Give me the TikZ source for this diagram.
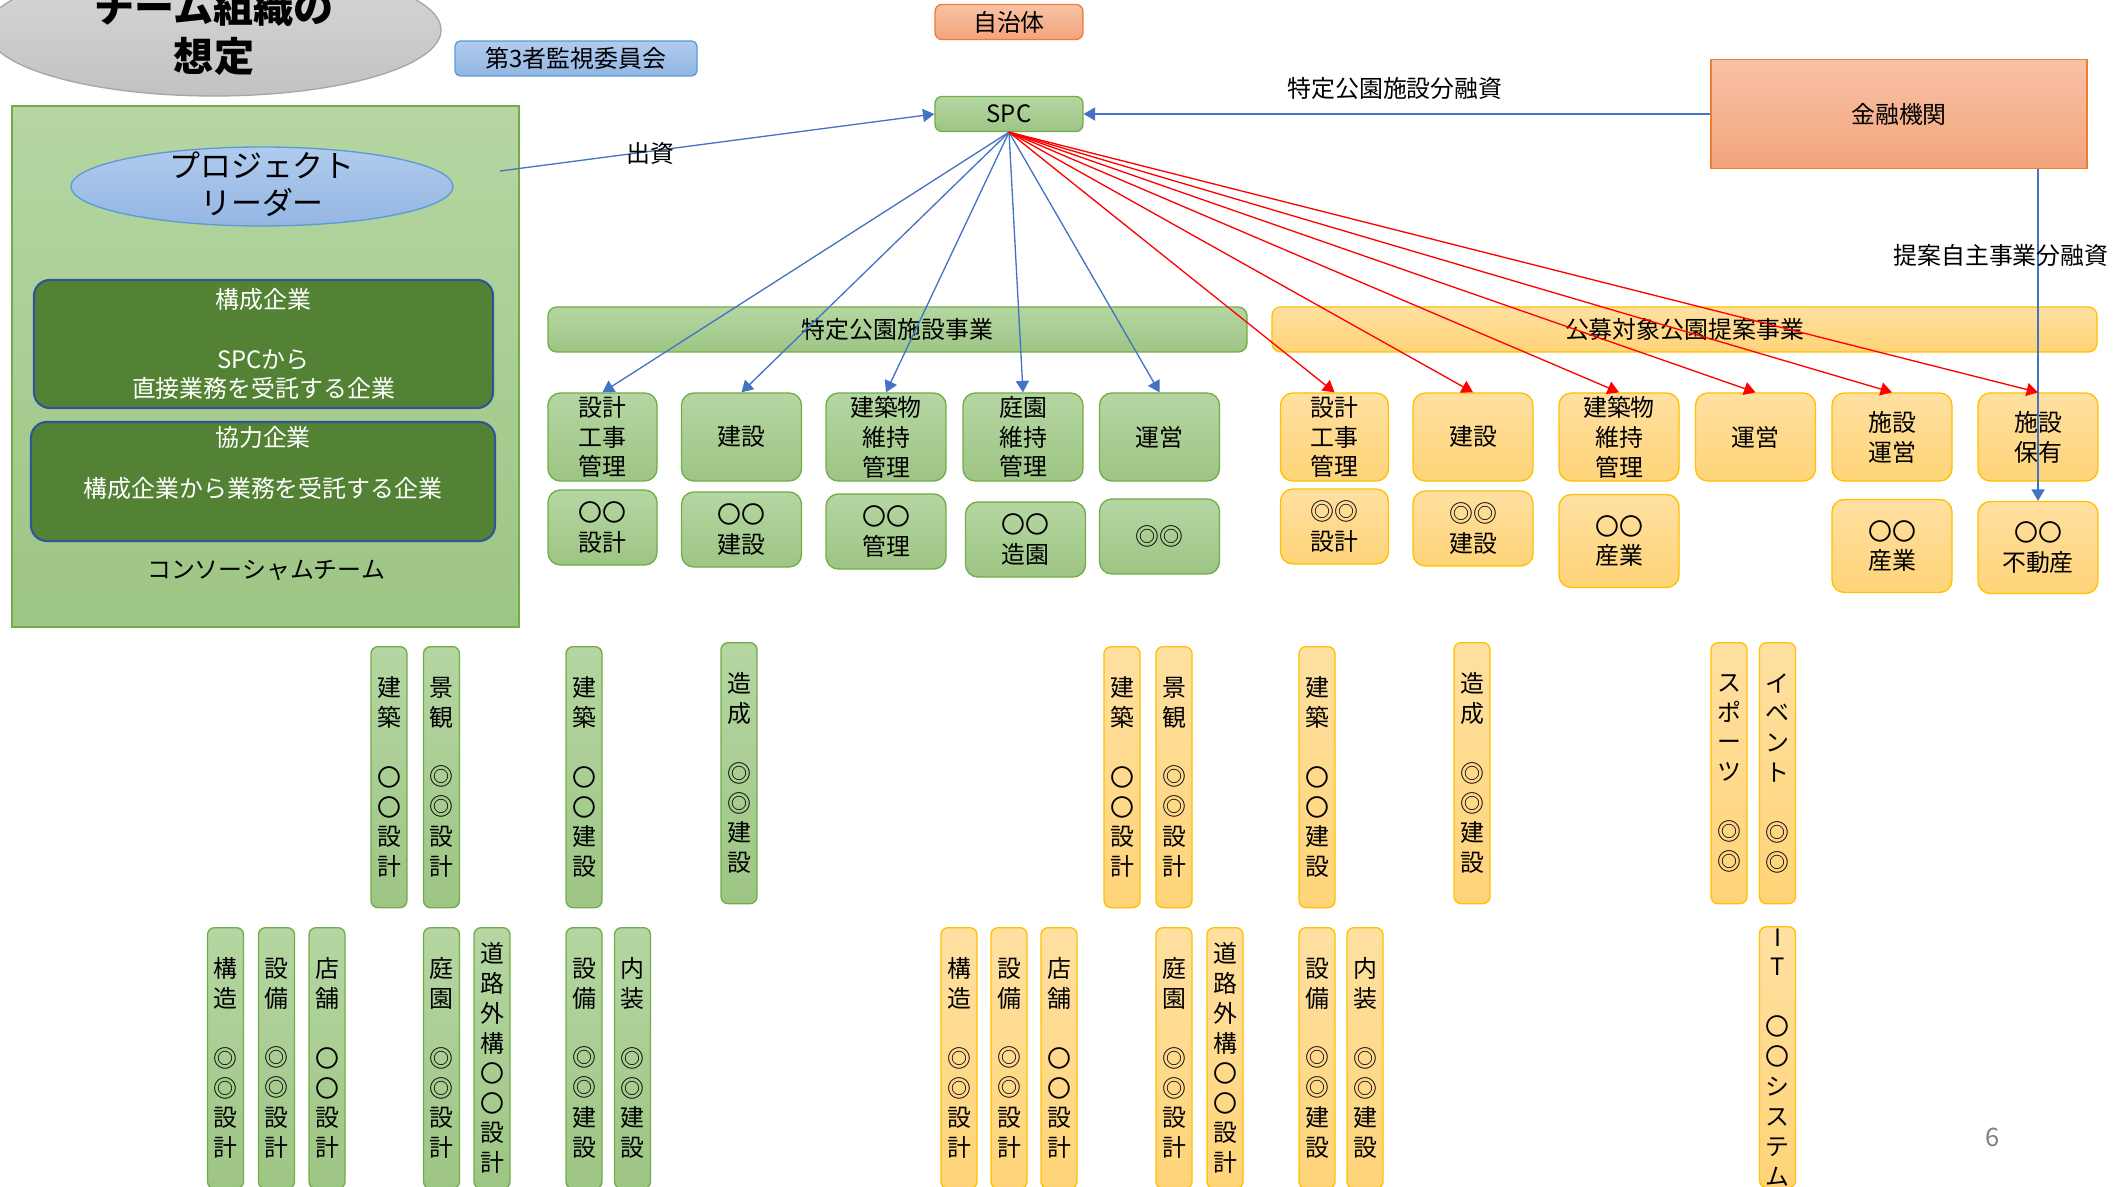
\documentclass[tikz,border=0pt]{standalone}
\usepackage{fontspec}
\setmainfont{Noto Sans CJK JP}
\usetikzlibrary{arrows.meta,shapes.geometric}
\definecolor{gline}{HTML}{70AD47}
\definecolor{gtop}{HTML}{B5D6A2}
\definecolor{gbot}{HTML}{9DC584}
\definecolor{oline}{HTML}{FFC000}
\definecolor{otop}{HTML}{FFE0A1}
\definecolor{obot}{HTML}{FFD478}
\definecolor{rline}{HTML}{ED7D31}
\definecolor{rtop}{HTML}{F7C2A5}
\definecolor{rbot}{HTML}{F3A47C}
\definecolor{bline}{HTML}{5B9BD5}
\definecolor{btop}{HTML}{B0CBEE}
\definecolor{bbot}{HTML}{93B6E2}
\definecolor{kfill}{HTML}{548235}
\definecolor{kline}{HTML}{2F5597}
\definecolor{arrowblue}{HTML}{4472C4}
\begin{document}
\begin{tikzpicture}[x=0.2mm,y=-0.2mm,
every node/.style={font=\fontsize{13.6}{17}\selectfont,align=center,inner sep=1pt},
gbox/.style={draw=gline,line width=0.75pt,rounded corners=7pt,top color=gtop,bottom color=gbot,minimum width=2.4cm,minimum height=1.76cm},
obox/.style={gbox,draw=oline,top color=otop,bottom color=obot},
gbar/.style={gbox,rounded corners=4pt,minimum width=0.72cm,minimum height=5.22cm,anchor=north},
obar/.style={obox,rounded corners=4pt,minimum width=0.72cm,minimum height=5.22cm,anchor=north},
bluebox/.style={draw=bline,line width=0.75pt,top color=btop,bottom color=bbot},
orangebox/.style={draw=rline,line width=0.75pt,top color=rtop,bottom color=rbot},
company/.style={draw=kline,line width=1.2pt,fill=kfill,rounded corners=9pt,text=white},
link/.style={draw=arrowblue,line width=0.75pt,-{Triangle[length=6.5pt,width=7.5pt]}},
redlink/.style={link,draw=red}]
\useasboundingbox (0,0) rectangle (2123,1187);

\node[ellipse,draw=gray!70,line width=0.75pt,top color=gray!30,bottom color=gray!48,minimum width=9.08cm,minimum height=2.64cm] (title) at (214,30) {};
\node[font=\fontsize{22.8}{28}\selectfont\bfseries] (titletext) at (214,32) {チーム組織の\\想定};
\node[bluebox,rounded corners=3pt,minimum width=4.84cm,minimum height=0.7cm] (iinkai) at (576,58.5) {第3者監視委員会};
\node[orangebox,rounded corners=4pt,minimum width=2.96cm,minimum height=0.7cm] (jichitai) at (1009,22) {自治体};
\node[gbox,rounded corners=4pt,minimum width=2.96cm,minimum height=0.7cm] (spc) at (1009,114) {SPC};
\node[orangebox,minimum width=7.52cm,minimum height=2.18cm] (bank) at (1899,114) {金融機関};

\node[draw=gline,line width=0.75pt,top color=gtop,bottom color=gbot,minimum width=10.14cm,minimum height=10.42cm] (team) at (265.5,366.5) {};
\node[ellipse,bluebox,minimum width=7.64cm,minimum height=1.58cm] (leader) at (262,186.5) {};
\node[font=\fontsize{17.6}{21}\selectfont] (leadertext) at (262,184) {プロジェクト\\リーダー};
\node[company,minimum width=9.18cm,minimum height=2.56cm] (kosei) at (263.5,344) {構成企業\\　\\SPCから\\直接業務を受託する企業};
\node[company,minimum width=9.28cm,minimum height=2.38cm] (kyoryoku) at (263,481.5) {};
\node[text=white] (kyoryokutext) at (263,463) {協力企業\\[12pt]構成企業から業務を受託する企業};
\node (consortium) at (266,570) {コンソーシャムチーム};

\node[gbox,rounded corners=5pt,minimum width=13.98cm,minimum height=0.9cm] (park) at (897.5,329.5) {特定公園施設事業};
\node[obox,rounded corners=5pt,minimum width=16.5cm,minimum height=0.9cm] (proposal) at (1684.5,329.5) {公募対象公園提案事業};

\node[gbox,minimum width=2.18cm] (g1) at (602.5,437) {設計\\工事\\管理};
\node[gbox] (g2) at (741.5,437) {建設};
\node[gbox] (g3) at (886,437) {建築物\\維持\\管理};
\node[gbox] (g4) at (1023,437) {庭園\\維持\\管理};
\node[gbox] (g5) at (1159.5,437) {運営};
\node[gbox,minimum width=2.18cm,minimum height=1.5cm] (h1) at (602.5,527.5) {〇〇\\設計};
\node[gbox,minimum height=1.5cm] (h2) at (741.5,529.5) {〇〇\\建設};
\node[gbox,minimum height=1.5cm] (h3) at (886,531.5) {〇〇\\管理};
\node[gbox,minimum height=1.5cm] (h4) at (1025.5,539.5) {〇〇\\造園};
\node[gbox,minimum height=1.5cm] (h5) at (1159.5,536.5) {◎◎};

\node[obox,minimum width=2.16cm] (o1) at (1334.5,437) {設計\\工事\\管理};
\node[obox] (o2) at (1473,437) {建設};
\node[obox] (o3) at (1619,437) {建築物\\維持\\管理};
\node[obox] (o4) at (1755.5,437) {運営};
\node[obox] (o5) at (1892,437) {施設\\運営};
\node[obox] (o6) at (2038,437) {施設\\保有};
\node[obox,minimum width=2.16cm,minimum height=1.5cm] (p1) at (1334.5,526.5) {◎◎\\設計};
\node[obox,minimum height=1.5cm] (p2) at (1473,528.5) {◎◎\\建設};
\node[obox,minimum height=1.86cm] (p3) at (1619,541) {〇〇\\産業};
\node[obox,minimum height=1.86cm] (p5) at (1892,546) {〇〇\\産業};
\node[obox,minimum height=1.84cm] (p6) at (2038,547.5) {〇〇\\不動産};

\node[gbar] (gv1) at (389,646) {建\\築\\　\\〇\\〇\\設\\計};
\node[gbar] (gv2) at (441.5,646) {景\\観\\　\\◎\\◎\\設\\計};
\node[gbar] (gv3) at (584,646) {建\\築\\　\\〇\\〇\\建\\設};
\node[gbar] (gv4) at (739,642) {造\\成\\　\\◎\\◎\\建\\設};
\node[gbar] (gw1) at (225.5,927) {構\\造\\　\\◎\\◎\\設\\計};
\node[gbar] (gw2) at (276.5,927) {設\\備\\　\\◎\\◎\\設\\計};
\node[gbar] (gw3) at (327,927) {店\\舗\\　\\〇\\〇\\設\\計};
\node[gbar] (gw4) at (441.5,927) {庭\\園\\　\\◎\\◎\\設\\計};
\node[gbar] (gw5) at (492,927) {道\\路\\外\\構\\〇\\〇\\設\\計};
\node[gbar] (gw6) at (584,927) {設\\備\\　\\◎\\◎\\建\\設};
\node[gbar] (gw7) at (632.5,927) {内\\装\\　\\◎\\◎\\建\\設};

\node[obar] (ov1) at (1122,646) {建\\築\\　\\〇\\〇\\設\\計};
\node[obar] (ov2) at (1174,646) {景\\観\\　\\◎\\◎\\設\\計};
\node[obar] (ov3) at (1317,646) {建\\築\\　\\〇\\〇\\建\\設};
\node[obar] (ov4) at (1472,642) {造\\成\\　\\◎\\◎\\建\\設};
\node[obar] (ov5) at (1729,642) {ス\\ポ\\ー\\ツ\\　\\◎\\◎};
\node[obar] (ov6) at (1777.5,642) {イ\\ベ\\ン\\ト\\　\\◎\\◎};
\node[obar] (ow1) at (959,927) {構\\造\\　\\◎\\◎\\設\\計};
\node[obar] (ow2) at (1009,927) {設\\備\\　\\◎\\◎\\設\\計};
\node[obar] (ow3) at (1059,927) {店\\舗\\　\\〇\\〇\\設\\計};
\node[obar] (ow4) at (1174,927) {庭\\園\\　\\◎\\◎\\設\\計};
\node[obar] (ow5) at (1225,927) {道\\路\\外\\構\\〇\\〇\\設\\計};
\node[obar] (ow6) at (1317,927) {設\\備\\　\\◎\\◎\\建\\設};
\node[obar] (ow7) at (1365,927) {内\\装\\　\\◎\\◎\\建\\設};
\node[obar] (ow8) at (1777.5,926) {I\\T\\　\\〇\\〇\\シ\\ス\\テ\\ム};

\coordinate (fund) at (500,171);
\draw[link] (fund) -- (spc.west);
\draw[link] (bank.west) -- (spc.east);
\draw[link] (bank.south -| p6.north) -- (p6.north);
\draw[link] (spc.south) -- (g1.north);
\draw[link] (spc.south) -- (g2.north);
\draw[link] (spc.south) -- (g3.north);
\draw[link] (spc.south) -- (g4.north);
\draw[link] (spc.south) -- (g5.north);
\draw[redlink] (spc.south) -- (o1.north);
\draw[redlink] (spc.south) -- (o2.north);
\draw[redlink] (spc.south) -- (o3.north);
\draw[redlink] (spc.south) -- (o4.north);
\draw[redlink] (spc.south) -- (o5.north);
\draw[redlink] (spc.south) -- (o6.north);

\node (shushi) at (650,153) {出資};
\node (loan1) at (1395,88) {特定公園施設分融資};
\node (loan2) at (2001,255) {提案自主事業分融資};
\node[text=gray,font=\fontsize{14.5}{17}\selectfont] (page) at (1993,1137) {6};
\end{tikzpicture}
\end{document}
